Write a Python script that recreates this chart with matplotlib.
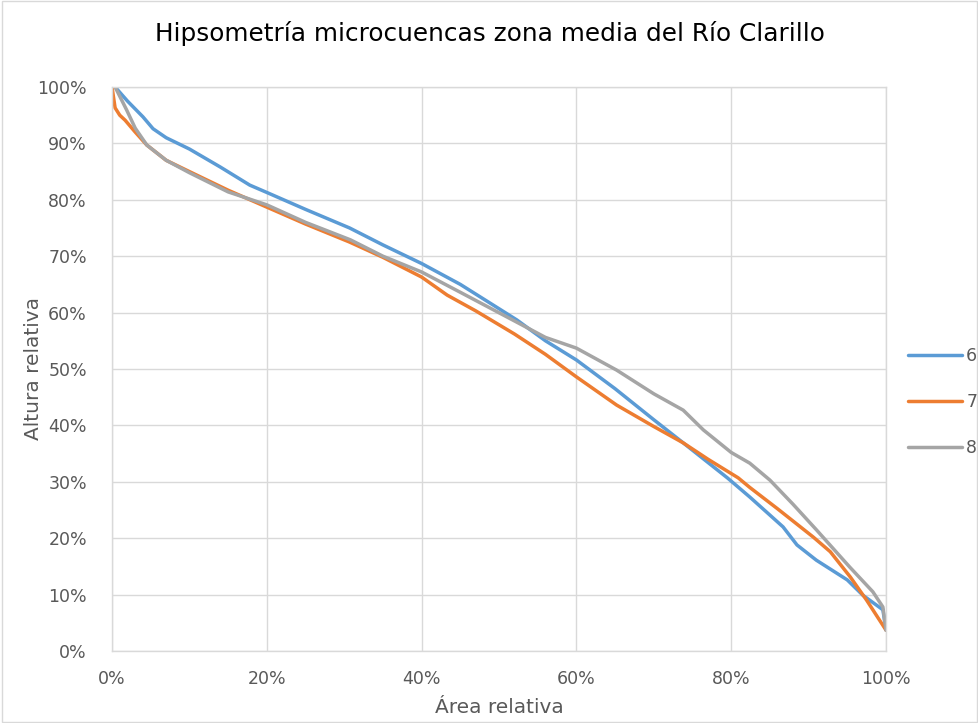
import matplotlib.pyplot as plt
import matplotlib.patches as patches
from matplotlib.ticker import PercentFormatter

# Curvas hipsométricas (área relativa %, altura relativa %)
area_6 = [0.4, 2, 4, 5.3, 7, 10, 14, 17.8, 20, 25, 30.7, 35, 40, 45, 52.3, 56, 60, 65, 70,
          73.8, 79.5, 82.4, 86.7, 88.5, 91, 95, 97, 99.6, 100]
altura_6 = [100, 97.5, 94.7, 92.6, 91, 89, 85.8, 82.6, 81.3, 78.3, 75, 72, 68.7, 65, 58.7, 55,
            51.6, 46.5, 41, 36.9, 30.7, 27.3, 22, 18.8, 16.1, 12.6, 9.9, 7.3, 3.7]

area_7 = [0, 0.4, 1, 1.7, 3, 4.5, 7, 10, 15, 20, 25, 30.7, 35, 40, 43.3, 47, 52, 56, 60, 65.2,
          70, 73.8, 77, 80.9, 82.4, 86, 90.6, 92.8, 95.4, 97.5, 100]
altura_7 = [100, 96.3, 95, 94.1, 92, 89.7, 87, 85, 81.7, 78.7, 75.7, 72.5, 69.8, 66.3, 63.1,
            60.3, 56.2, 52.6, 48.6, 43.6, 39.8, 36.9, 34.0, 30.7, 29.0, 25.2, 20.2, 17.6, 13.1,
            9, 3.7]

area_8 = [0.4, 1.9, 3, 4.5, 7, 10, 15, 20, 25, 30.8, 35, 40, 45, 52.3, 56, 60, 65.2, 70, 73.8,
          76.4, 80, 82.4, 85, 88, 91, 95.3, 98.3, 99.6, 100]
altura_8 = [100, 95.9, 92.7, 89.7, 87, 84.8, 81.4, 79.1, 76, 72.9, 70, 67.2, 63.6, 58.3, 55.6,
            53.7, 49.8, 45.6, 42.7, 39.2, 35.2, 33.3, 30.3, 26, 21.5, 14.9, 10.5, 7.8, 3.7]

series = [("6", area_6, altura_6, "#5B9BD5"),
          ("7", area_7, altura_7, "#ED7D31"),
          ("8", area_8, altura_8, "#A5A5A5")]

plt.rcParams['font.family'] = ['DejaVu Sans']
gris_texto = "#595959"

fig = plt.figure(figsize=(9.79, 7.23), dpi=100)
ax = fig.add_axes([0.1144, 0.0996, 0.7906, 0.7801])

for nombre, x, y, color in series:
    ax.plot(x, y, color=color, linewidth=2.5, label=nombre,
            solid_capstyle='round', solid_joinstyle='round')

ax.set_xlim(0, 100)
ax.set_ylim(0, 100)
ax.set_xticks(range(0, 101, 20))
ax.set_yticks(range(0, 101, 10))
ax.xaxis.set_major_formatter(PercentFormatter(decimals=0))
ax.yaxis.set_major_formatter(PercentFormatter(decimals=0))
ax.tick_params(axis='y', length=0, labelsize=12.5, colors=gris_texto, pad=18)
ax.tick_params(axis='x', length=0, labelsize=12.5, colors=gris_texto, pad=14)
ax.grid(True, color="#d9d9d9", linewidth=1)
ax.set_axisbelow(True)
for s in ax.spines.values():
    s.set_color("#d9d9d9")
    s.set_linewidth(1)

ax.set_xlabel("Área relativa", fontsize=14.5, color=gris_texto)
ax.set_ylabel("Altura relativa", fontsize=14.5, color=gris_texto)
ax.xaxis.set_label_coords(0.5, -0.084)
ax.yaxis.set_label_coords(-0.089, 0.5)
fig.text(0.5, 0.954, "Hipsometría microcuencas zona media del Río Clarillo",
         ha='center', va='center', fontsize=17.8, color="#000000")

fig.legend(loc='center left', bbox_to_anchor=(908 / 979, 1 - 402 / 723), frameon=False,
           fontsize=12.5, handlelength=3.1, labelspacing=1.6, handletextpad=0.25,
           borderpad=0, borderaxespad=0, labelcolor=gris_texto)

fig.patches.append(patches.Rectangle((0.002, 0.002), 0.996, 0.996, transform=fig.transFigure,
                                     fill=False, edgecolor="#d9d9d9", linewidth=1))

fig.savefig("out.png", dpi=100)
